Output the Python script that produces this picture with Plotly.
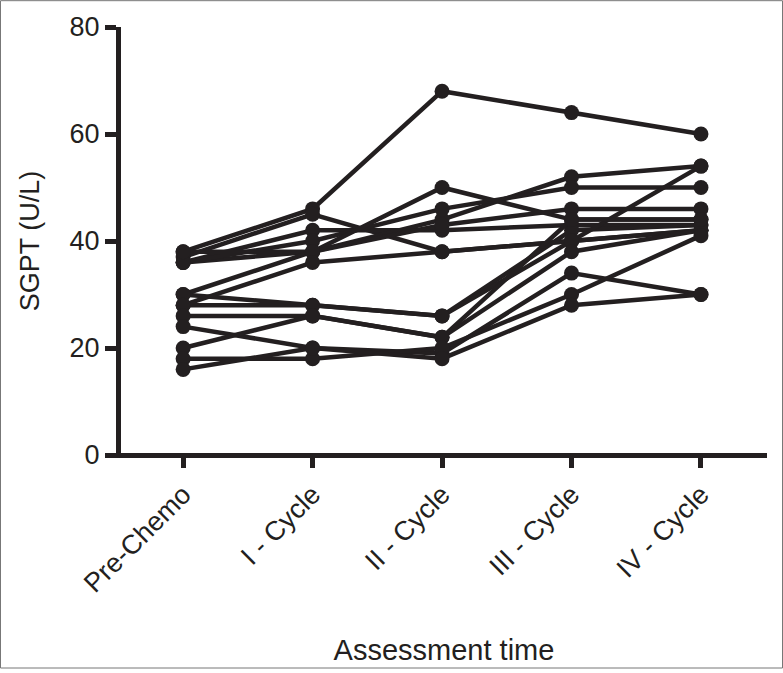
import plotly.graph_objects as go

categories = ["Pre-Chemo", "I - Cycle", "II - Cycle", "III - Cycle", "IV - Cycle"]

s01 = [38, 46, 68, 64, 60]
s02 = [37, 45, 38, 40, 42]
s03 = [36, 42, 42, 43, 43]
s04 = [36, 38, 44, 52, 54]
s05 = [36, 40, 46, 50, 50]
s06 = [38, 38, 50, 44, 44]
s07 = [30, 38, 43, 46, 46]
s08 = [28, 36, 38, 40, 42]
s09 = [30, 28, 26, 42, 43]
s10 = [28, 28, 26, 40, 54]
s11 = [26, 26, 22, 38, 42]
s12 = [24, 20, 19, 34, 30]
s13 = [20, 26, 22, 44, 44]
s14 = [18, 18, 20, 30, 41]
s15 = [16, 20, 18, 28, 30]

series = [s01, s02, s03, s04, s05, s06, s07, s08, s09, s10, s11, s12, s13, s14, s15]

ink = "#231f20"
fig = go.Figure()
for s in series:
    fig.add_trace(go.Scatter(
        x=categories, y=s, mode="lines+markers",
        line=dict(color=ink, width=4.5),
        marker=dict(color=ink, size=15),
        showlegend=False, cliponaxis=False,
    ))

font = dict(family="Liberation Sans, Arial, sans-serif", color=ink)

W, H = 783, 673
L, R, T, B = 121, 16, 27, 215
pw, ph = W - L - R, H - T - B

def px_x(p):
    return (p - L) / pw

def px_y(p):
    return (H - B - p) / ph

fig.update_layout(
    width=W, height=H,
    margin=dict(l=L, r=R, t=T, b=B),
    paper_bgcolor="white", plot_bgcolor="white",
    font=font,
    xaxis=dict(
        type="category", range=[-0.48, 4.51],
        showline=False,
        ticks="outside", ticklen=12, tickwidth=5, tickcolor=ink,
        tickangle=-45, tickfont=dict(size=27, **font),
        showgrid=False, zeroline=False,
        title=dict(text="Assessment time", font=dict(size=29, **font), standoff=42),
    ),
    yaxis=dict(
        range=[0, 80], tickvals=[0, 20, 40, 60, 80],
        showline=True, linecolor=ink, linewidth=5,
        ticks="outside", ticklen=11, tickwidth=5, tickcolor=ink,
        tickfont=dict(size=27, **font),
        showgrid=False, zeroline=False,
        title=dict(text="SGPT (U/L)", font=dict(size=27, **font), standoff=24),
    ),
    shapes=[
        dict(type="line", xref="paper", yref="paper",
             x0=px_x(107), x1=px_x(767), y0=px_y(458.5), y1=px_y(458.5),
             line=dict(color=ink, width=5), layer="above"),
        dict(type="rect", xref="paper", yref="paper",
             x0=px_x(0.5), x1=px_x(782.5), y0=px_y(672.5), y1=px_y(0.5),
             line=dict(color="#777777", width=1)),
    ],
)

fig.write_html("out.html", config={"displayModeBar": False},
               post_script="document.body.style.margin='0px';document.body.style.overflow='hidden';")
